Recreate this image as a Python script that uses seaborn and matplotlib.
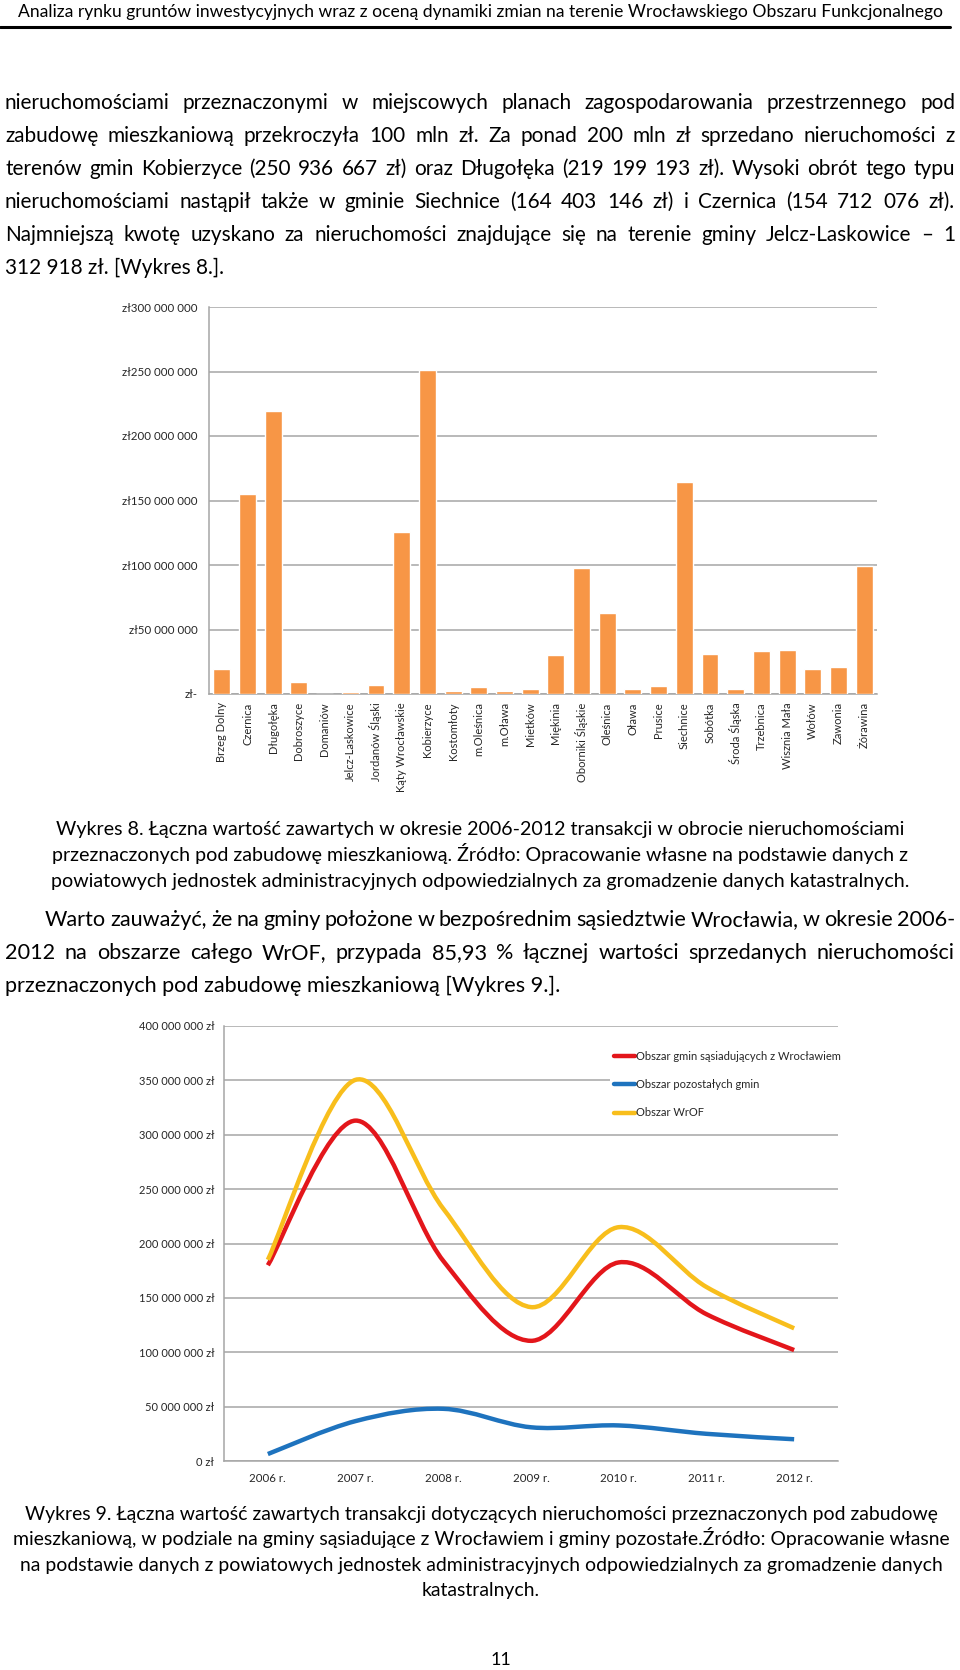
import matplotlib.pyplot as plt
import numpy as np
import seaborn as sns
from matplotlib.path import Path
from matplotlib.patches import PathPatch
from matplotlib.lines import Line2D

# ---- Wykres 8: wartosc transakcji wg gmin (zl)
gminy = ["Brzeg Dolny", "Czernica", "Długołęka", "Dobroszyce", "Domaniów",
         "Jelcz-Laskowice", "Jordanów Śląski", "Kąty Wrocławskie", "Kobierzyce",
         "Kostomłoty", "m.Oleśnica", "m.Oława", "Mietków", "Miękinia",
         "Oborniki Śląskie", "Oleśnica", "Oława", "Prusice", "Siechnice",
         "Sobótka", "Środa Śląska", "Trzebnica", "Wisznia Mała", "Wołów",
         "Zawonia", "Żórawina"]
wartosci = [19.1e6, 154712076, 219199193, 9.3e6, 0, 1312918, 6.7e6, 125.3e6,
            250936667, 2.5e6, 5.4e6, 2.3e6, 4.0e6, 30.0e6, 98.0e6, 63.0e6,
            4.0e6, 6.0e6, 164403146, 30.7e6, 3.5e6, 33.6e6, 34.4e6, 19.0e6,
            21.0e6, 99.0e6]
ticks_8 = [0, 50e6, 100e6, 150e6, 200e6, 250e6, 300e6]

# ---- Wykres 9: wartosc transakcji 2006-2012 (zl)
lata = ["2006 r.", "2007 r.", "2008 r.", "2009 r.", "2010 r.", "2011 r.", "2012 r."]
sasiednie = [180e6, 313e6, 184e6, 110.5e6, 182.6e6, 135e6, 102e6]
pozostale = [6.4e6, 36.7e6, 48e6, 31e6, 32.7e6, 25e6, 20e6]
wrof = [185e6, 350.5e6, 232e6, 141.5e6, 215e6, 160e6, 122e6]
serie = ["Obszar gmin sąsiadujących z Wrocławiem", "Obszar pozostałych gmin", "Obszar WrOF"]
kolory = ["#E3161B", "#1E73BE", "#F8BE1C"]
ticks_9 = [0, 50e6, 100e6, 150e6, 200e6, 250e6, 300e6, 350e6, 400e6]

# ---- teksty strony
naglowek = "Analiza rynku gruntów inwestycyjnych wraz z oceną dynamiki zmian na terenie Wrocławskiego Obszaru Funkcjonalnego"
akapit1 = [
    "nieruchomościami przeznaczonymi w miejscowych planach zagospodarowania przestrzennego pod",
    "zabudowę mieszkaniową przekroczyła 100 mln zł. Za ponad 200 mln zł sprzedano nieruchomości z",
    "terenów gmin Kobierzyce (250 936 667 zł) oraz Długołęka (219 199 193 zł). Wysoki obrót tego typu",
    "nieruchomościami nastąpił także w gminie Siechnice (164 403 146 zł) i Czernica (154 712 076 zł).",
    "Najmniejszą kwotę uzyskano za nieruchomości znajdujące się na terenie gminy Jelcz-Laskowice – 1",
    "312 918 zł. [Wykres 8.].",
]
podpis8 = [
    "Wykres 8. Łączna wartość zawartych w okresie 2006-2012 transakcji w obrocie nieruchomościami",
    "przeznaczonych pod zabudowę mieszkaniową. Źródło: Opracowanie własne na podstawie danych z",
    "powiatowych jednostek administracyjnych odpowiedzialnych za gromadzenie danych katastralnych.",
]
akapit2 = [
    "Warto zauważyć, że na gminy położone w bezpośrednim sąsiedztwie Wrocławia, w okresie 2006-",
    "2012 na obszarze całego WrOF, przypada 85,93 % łącznej wartości sprzedanych nieruchomości",
    "przeznaczonych pod zabudowę mieszkaniową [Wykres 9.].",
]
podpis9 = [
    "Wykres 9. Łączna wartość zawartych transakcji dotyczących nieruchomości przeznaczonych pod zabudowę",
    "mieszkaniową, w podziale na gminy sąsiadujące z Wrocławiem i gminy pozostałe.Źródło: Opracowanie własne",
    "na podstawie danych z powiatowych jednostek administracyjnych odpowiedzialnych za gromadzenie danych",
    "katastralnych.",
]

W, H = 960, 1670
sns.set_style("white")
plt.rcParams['font.family'] = ['Lato', 'DejaVu Sans']
FONT = ['Lato', 'DejaVu Sans']

fig = plt.figure(figsize=(W / 100, H / 100), dpi=100)
renderer = fig.canvas.get_renderer()


def px(x, y):
    return x / W, 1 - y / H


def measure(s, size):
    t = fig.text(0, 0, s, fontsize=size, family=FONT)
    w = t.get_window_extent(renderer).width
    t.remove()
    return w


def fit_size(lines, width):
    return 10 * width / max(measure(s, 10) for s in lines)


def put(s, x, y, size, ha='left'):
    # y = srodek linii w pikselach, rysujemy od linii bazowej
    base = y + 0.34 * size * 100 / 72
    fig.text(*px(x, base), s, fontsize=size, ha=ha, va='baseline',
             color='black', family=FONT)


def justify(line, y, x0, x1, size):
    words = line.split(' ')
    widths = [measure(w, size) for w in words]
    gap = (x1 - x0 - sum(widths)) / (len(words) - 1)
    x = x0
    for w, wd in zip(words, widths):
        put(w, x, y, size)
        x += wd + gap


# naglowek
s = fit_size([naglowek], 925)
put(naglowek, 480, 11, s, ha='center')
fig.add_artist(Line2D([0, 950 / W], [1 - 27 / H] * 2, color='black', lw=2.2,
                      transform=fig.transFigure))

# akapit 1
s1 = fit_size(akapit1, 950 * 0.965)
for i, line in enumerate(akapit1):
    y = 102 + i * 33
    if i < len(akapit1) - 1:
        justify(line, y, 5, 955, s1)
    else:
        put(line, 5, y, s1)

# ---- Wykres 8
ax1 = fig.add_axes([209 / W, 1 - 694 / H, (877 - 209) / W, (694 - 307) / H])
sns.barplot(x=gminy, y=wartosci, color="#F79646", saturation=1, width=0.66,
            errorbar=None, ax=ax1, zorder=3)
ax1.set_ylim(0, 300e6)
ax1.set_xlim(-0.5, len(gminy) - 0.5)
ax1.set_yticks(ticks_8)
ax1.set_yticklabels(["zł-" if v == 0 else "zł" + f"{int(v):,}".replace(",", " ") for v in ticks_8])
ax1.yaxis.grid(True, color="#a6a6a6", lw=1.1, zorder=0)
ax1.set_axisbelow(True)
ax1.set_xticks(np.arange(-0.5, len(gminy)), minor=True)
ax1.tick_params(axis='x', which='major', length=0, labelrotation=90, labelsize=8, pad=6)
ax1.tick_params(axis='x', which='minor', length=5, color="#9db3cc", width=1)
ax1.tick_params(axis='y', length=5, color="#a6a6a6", labelsize=8.3, pad=3)
sns.despine(ax=ax1, top=True, right=True)
for sp in ("left", "bottom"):
    ax1.spines[sp].set_color("#a6a6a6")
    ax1.spines[sp].set_linewidth(1.1)
ax1.set_xlabel("")
ax1.set_ylabel("")

# podpis 8
s8 = fit_size(podpis8, 860)
for i, line in enumerate(podpis8):
    put(line, 480, 828 + i * 26, s8, ha='center')

# akapit 2
s2 = fit_size(akapit2[:2], 950 * 0.975)
justify(akapit2[0], 919, 45, 955, s2)
justify(akapit2[1], 952, 5, 955, s2)
put(akapit2[2], 5, 985, s2)

# ---- Wykres 9
ax2 = fig.add_axes([224 / W, 1 - 1461 / H, (838 - 224) / W, (1461 - 1026) / H])
ax2.set_xlim(-0.5, len(lata) - 0.5)
ax2.set_ylim(0, 400e6)
xs = np.arange(len(lata))


def smooth_path(xv, yv):
    p = np.column_stack([xv, yv]).astype(float)
    ext = np.vstack([p[0], p, p[-1]])
    verts, codes = [p[0]], [Path.MOVETO]
    for i in range(len(p) - 1):
        p0, p1, p2, p3 = ext[i], ext[i + 1], ext[i + 2], ext[i + 3]
        verts += [p1 + (p2 - p0) / 6, p2 - (p3 - p1) / 6, p2]
        codes += [Path.CURVE4] * 3
    return Path(verts, codes)


for vals, col in zip([sasiednie, pozostale, wrof], kolory):
    ax2.add_patch(PathPatch(smooth_path(xs, vals), facecolor='none', edgecolor=col,
                            lw=3.2, capstyle='butt', zorder=3))

ax2.set_yticks(ticks_9)
ax2.set_yticklabels([f"{int(v):,}".replace(",", " ") + " zł" for v in ticks_9])
ax2.set_xticks(xs)
ax2.set_xticklabels(lata)
ax2.set_xticks(np.arange(-0.5, len(lata)), minor=True)
ax2.yaxis.grid(True, color="#a6a6a6", lw=1.1, zorder=0)
ax2.set_axisbelow(True)
ax2.tick_params(axis='x', which='major', length=0, labelsize=8.3, pad=9)
ax2.tick_params(axis='x', which='minor', length=5, color="#a6a6a6", width=1)
ax2.tick_params(axis='y', length=4, color="#a6a6a6", labelsize=8, pad=3)
sns.despine(ax=ax2, top=True, right=True)
for sp in ("left", "bottom"):
    ax2.spines[sp].set_color("#a6a6a6")
    ax2.spines[sp].set_linewidth(1.1)

handles = [Line2D([], [], color=c, lw=3.2) for c in kolory]
ax2.legend(handles, serie, loc='upper left', bbox_to_anchor=px(604, 1041),
           bbox_transform=fig.transFigure, frameon=True, facecolor='white',
           edgecolor='none', framealpha=1, fancybox=False, fontsize=8,
           handlelength=1.9, handletextpad=0.1, labelspacing=1.55, borderpad=0.4)

# podpis 9
s9 = fit_size(podpis9, 936)
for i, line in enumerate(podpis9):
    put(line, 481, 1513 + i * 25.5, s9, ha='center')

# numer strony
put("11", 501, 1659, 13, ha='center')

fig.savefig("out.png", dpi=100)
